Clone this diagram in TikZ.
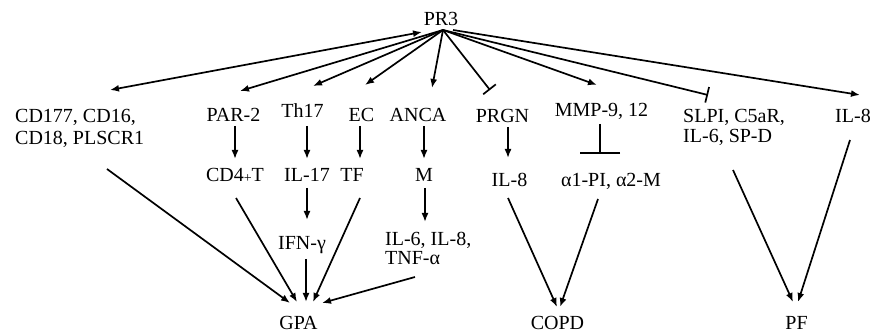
\documentclass[tikz,border=0pt]{standalone}
\usepackage{fontspec}
\setmainfont{Liberation Serif}
\usetikzlibrary{arrows.meta}
\begin{document}
\begin{tikzpicture}[x=1pt,y=-1pt,
  lbl/.style={inner sep=0pt, font=\fontsize{20}{22}\selectfont},
  arr/.style={line width=1.7pt, -{Latex[length=9pt,width=7pt]}},
  darr/.style={line width=1.7pt, {Latex[length=9pt,width=7pt]}-{Latex[length=9pt,width=7pt]}},
  inh/.style={line width=1.7pt, -{Bar[width=16pt]}},
  inhwide/.style={line width=1.7pt, -{Bar[width=40pt]}}
]
\useasboundingbox (0,0) rectangle (872,336);

% labels
\node[lbl,anchor=base] (pr3) at (441,26) {PR3};
\node[lbl,anchor=base west,align=left] (cd) at (15,145) {CD177, CD16,\\CD18, PLSCR1};
\node[lbl,anchor=base] (par) at (233.5,122) {PAR-2};
\node[lbl,anchor=base] (th) at (302.5,118) {Th17};
\node[lbl,anchor=base] (ec) at (361.5,122) {EC};
\node[lbl,anchor=base] (anca) at (418,122) {ANCA};
\node[lbl,anchor=base] (prgn) at (502.5,123) {PRGN};
\node[lbl,anchor=base] (mmp) at (601.5,117) {MMP-9, 12};
\node[lbl,anchor=base west,align=left] (slpi) at (683,143) {SLPI, C5aR,\\[-2pt]IL-6, SP-D};
\node[lbl,anchor=base] (il8a) at (853,123) {IL-8};
\node[lbl,anchor=base] (cd4) at (235,182) {CD4{\fontsize{14}{14}\selectfont\raisebox{-1pt}{+}}T};
\node[lbl,anchor=base] (il17) at (307,182) {IL-17};
\node[lbl,anchor=base] (tf) at (352,182) {TF};
\node[lbl,anchor=base] (m) at (424,182) {M};
\node[lbl,anchor=base] (il8b) at (509.5,187) {IL-8};
\node[lbl,anchor=base] (api) at (611,187) {α1-PI, α2-M};
\node[lbl,anchor=base] (ifn) at (302,250) {IFN-γ};
\node[lbl,anchor=base west,align=left] (il6) at (385,265) {IL-6, IL-8,\\[-3pt]TNF-α};
\node[lbl,anchor=base] (gpa) at (298.5,330) {GPA};
\node[lbl,anchor=base] (copd) at (557.5,330) {COPD};
\node[lbl,anchor=base] (pf) at (796.5,330) {PF};

% connector end points
\coordinate (hub) at (443,30);
\coordinate (hubL) at (422,32);
\coordinate (hubR) at (453,30);
\coordinate (cdIn) at (110,90);
\coordinate (parIn) at (240,91);
\coordinate (thIn) at (313,86);
\coordinate (ecIn) at (365,85);
\coordinate (ancaIn) at (432,88);
\coordinate (prgnIn) at (490,90);
\coordinate (mmpIn) at (597,85);
\coordinate (slpiIn) at (708,95);
\coordinate (il8aIn) at (860,95);

% fan from PR3
\draw[darr] (cdIn) -- (hubL);
\draw[arr] (hub) -- (parIn);
\draw[arr] (hub) -- (thIn);
\draw[arr] (hub) -- (ecIn);
\draw[arr] (hub) -- (ancaIn);
\draw[inh] (hub) -- (prgnIn);
\draw[arr] (hub) -- (mmpIn);
\draw[inh] (hub) -- (slpiIn);
\draw[arr] (hubR) -- (il8aIn);

% vertical steps
\draw[arr] (235,126) -- (235,159);
\draw[arr] (307,126) -- (307,159);
\draw[arr] (360,126) -- (360,159);
\draw[arr] (424,126) -- (424,159);
\draw[arr] (508,127) -- (508,158);
\draw[inhwide] (600,124) -- (600,154);
\draw[arr] (307,188) -- (307,220);
\draw[arr] (425,188) -- (425,222);

% to GPA
\draw[arr] (107,169) -- (290,303);
\draw[arr] (236,198) -- (297,302);
\draw[arr] (306,259) -- (306,302);
\draw[arr] (360,198) -- (313,302);
\draw[arr] (415,277) -- (322,303);

% to COPD
\draw[arr] (508,198) -- (557,307);
\draw[arr] (598,199) -- (560,307);

% to PF
\draw[arr] (733,170) -- (793,302);
\draw[arr] (850,140) -- (798,302);
\end{tikzpicture}
\end{document}
